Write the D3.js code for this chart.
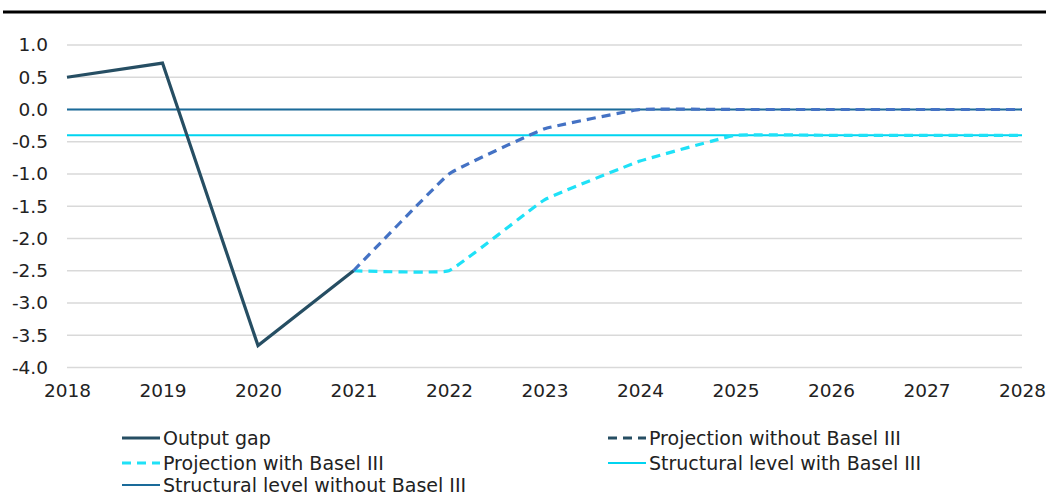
<!DOCTYPE html>
<html><head><meta charset="utf-8">
<script src="https://cdn.jsdelivr.net/npm/d3@7"></script>
<style>
body{margin:0;background:#fff;}
svg{display:block;font-family:"DejaVu Sans",sans-serif;}
</style></head>
<body><svg id="c" width="1046" height="495"></svg>
<script>
const years = [2018,2019,2020,2021,2022,2023,2024,2025,2026,2027,2028];
const yTicks = [1.0,0.5,0.0,-0.5,-1.0,-1.5,-2.0,-2.5,-3.0,-3.5,-4.0];
const outputGapYears = [2018,2019,2020,2021];
const outputGap = [0.5,0.72,-3.66,-2.5];
const projYears = [2021,2022,2023,2024,2025,2026,2027,2028];
const projWithout = [-2.5,-1.0,-0.3,0.0,0.0,0.0,0.0,0.0];
const projWith = [-2.5,-2.5,-1.4,-0.8,-0.4,-0.4,-0.4,-0.4];
const structWith = -0.4;
const structWithout = 0.0;
const legendLabels = ["Output gap","Projection without Basel III","Projection with Basel III","Structural level with Basel III","Structural level without Basel III"];

const svg = d3.select("#c");
const x = d3.scaleLinear().domain([2018,2028]).range([67,1022]);
const y = d3.scaleLinear().domain([-4,1]).range([367.5,45]);
const FONT = "'DejaVu Sans', sans-serif";
const loc = d3.formatLocale({decimal:".",thousands:",",grouping:[3],currency:["",""],minus:"-"});

// top rule
svg.append("line").attr("x1",3).attr("x2",1046).attr("y1",12).attr("y2",12).attr("stroke","#000").attr("stroke-width",3);

// grid
svg.append("g").selectAll("line").data(yTicks).join("line")
  .attr("x1",x(2018)).attr("x2",x(2028)).attr("y1",d=>y(d)).attr("y2",d=>y(d))
  .attr("stroke","#d9d9d9").attr("stroke-width",1.3);

// y axis
const ya = svg.append("g").attr("transform","translate(48,0)")
  .call(d3.axisLeft(y).tickValues(yTicks).tickFormat(loc.format(".1f")).tickSize(0).tickPadding(0));
ya.attr("font-family",FONT).attr("font-size",18.5);
ya.select(".domain").remove();
ya.selectAll("text").attr("fill","#222");

// x axis
const xa = svg.append("g").attr("transform","translate(0,384)")
  .call(d3.axisBottom(x).tickValues(years).tickFormat(d3.format("d")).tickSize(0).tickPadding(0));
xa.attr("font-family",FONT).attr("font-size",18.5);
xa.select(".domain").remove();
xa.selectAll("text").attr("fill","#222").attr("dy","0.71em");

const cStructWithout = "#1a6b9a", cStructWith = "#00d4f0", cOut = "#264e63", cPW = "#1fe1f7", cPWo = "#4472c4";

// structural lines
svg.append("line").attr("x1",x(2018)).attr("x2",x(2028)).attr("y1",y(structWithout)).attr("y2",y(structWithout)).attr("stroke",cStructWithout).attr("stroke-width",2);
svg.append("line").attr("x1",x(2018)).attr("x2",x(2028)).attr("y1",y(structWith)).attr("y2",y(structWith)).attr("stroke",cStructWith).attr("stroke-width",2);

const smooth = d3.line().x(d=>x(d[0])).y(d=>y(d[1])).curve(d3.curveCardinal.tension(0.75));
const straight = d3.line().x(d=>x(d[0])).y(d=>y(d[1]));

svg.append("path").attr("d",smooth(d3.zip(projYears,projWith))).attr("fill","none").attr("stroke",cPW).attr("stroke-width",3.2).attr("stroke-dasharray","9,6");
svg.append("path").attr("d",smooth(d3.zip(projYears,projWithout))).attr("fill","none").attr("stroke",cPWo).attr("stroke-width",3.2).attr("stroke-dasharray","9,6");
svg.append("path").attr("d",straight(d3.zip(outputGapYears,outputGap))).attr("fill","none").attr("stroke",cOut).attr("stroke-width",3.2).attr("stroke-linejoin","miter");

// legend
const leg = [
  {t:legendLabels[0],x:122,y:438,c:cOut,d:null,w:3.2},
  {t:legendLabels[1],x:608,y:438,c:cOut,d:"9,6",w:3.2},
  {t:legendLabels[2],x:122,y:463,c:cPW,d:"9,6",w:3.2},
  {t:legendLabels[3],x:608,y:463,c:cStructWith,d:null,w:2},
  {t:legendLabels[4],x:122,y:485,c:cStructWithout,d:null,w:2}
];
const lg = svg.append("g").attr("font-family",FONT).attr("font-size",19).selectAll("g").data(leg).join("g").attr("transform",d=>`translate(${d.x},${d.y})`);
lg.append("line").attr("x1",0).attr("x2",38).attr("stroke",d=>d.c).attr("stroke-width",d=>d.w).attr("stroke-dasharray",d=>d.d);
lg.append("text").attr("x",41).attr("dy","0.35em").attr("fill","#222").text(d=>d.t);
</script></body></html>
